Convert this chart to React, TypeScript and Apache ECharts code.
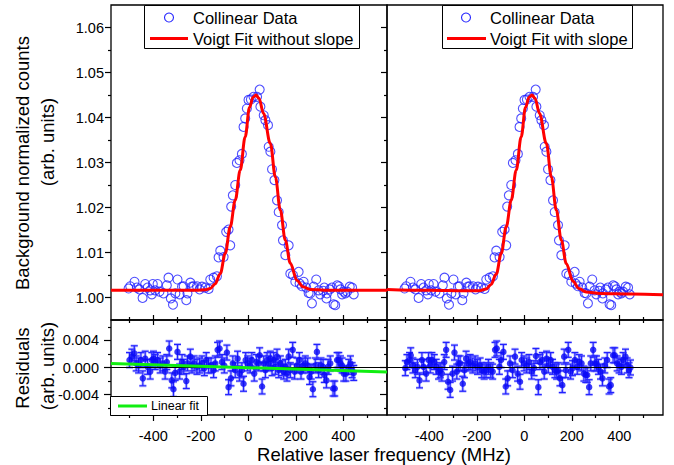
import React, { useEffect, useRef } from "react";
import * as echarts from "echarts";

// ---------- axis ranges / ticks ----------
const X_MIN = -578;
const X_MAX = 584;
const X_MAJOR = [-400, -200, 0, 200, 400];
const X_MINOR = [-500, -300, -100, 100, 300, 500];
const Y_TOP_MIN = 0.995;
const Y_TOP_MAX = 1.065;
const Y_TOP_MAJOR = [1.0, 1.01, 1.02, 1.03, 1.04, 1.05, 1.06];
const Y_TOP_MINOR = [1.005, 1.015, 1.025, 1.035, 1.045, 1.055];
const Y_RES_MIN = -0.007;
const Y_RES_MAX = 0.007;
const Y_RES_MAJOR = [-0.004, 0, 0.004];
const Y_RES_MINOR = [-0.006, -0.002, 0.002, 0.006];

// ---------- data (MHz, normalized counts) ----------
const COLLINEAR_DATA: number[][] = [
  [-504, 1.002], [-497, 1.0025], [-479, 1.0035], [-469, 1.0022], [-458, 1.0018], [-445, 0.9999],
  [-434, 1.003], [-424, 1.0022], [-413, 1.0016], [-406, 1.0007], [-402, 1.003], [-392, 1.0016],
  [-382, 1.003], [-374, 1.0013], [-357, 1.0009], [-343, 1.0027], [-336, 1.0044], [-326, 0.9998],
  [-317, 0.9984], [-307, 1.0009], [-298, 1.004], [-289, 1.0007], [-279, 1.0024], [-272, 1.0025],
  [-261, 0.9994], [-256, 1.0009], [-244, 1.0033], [-237, 1.0024], [-230, 1.0025], [-216, 1.0025],
  [-205, 1.0018], [-195, 1.0024], [-181, 1.0022], [-167, 1.0019], [-160, 1.004], [-146, 1.0044],
  [-132, 1.0047], [-125, 1.0089], [-118, 1.0104], [-104, 1.009], [-93, 1.0146], [-83, 1.0151],
  [-76, 1.0116], [-72, 1.0202], [-65, 1.0227], [-55, 1.025], [-48, 1.0299], [-37, 1.0305],
  [-27, 1.0319], [-20, 1.0379], [-13, 1.0398], [-6, 1.042], [1, 1.0439], [11, 1.044],
  [22, 1.0446], [37, 1.0446], [48, 1.0462], [51, 1.0424], [65, 1.0405], [72, 1.0394],
  [83, 1.0383], [86, 1.0335], [93, 1.0324], [100, 1.0285], [110, 1.0261], [121, 1.0216],
  [128, 1.019], [142, 1.0161], [146, 1.0127], [156, 1.0094], [170, 1.0116], [177, 1.0053],
  [188, 1.005], [198, 1.0035], [212, 1.0057], [216, 1.0031], [226, 1.0025], [233, 1.0035],
  [244, 1.0022], [254, 1.001], [261, 1.0009], [268, 0.9987], [275, 1.0024], [286, 1.004],
  [296, 1.0016], [303, 1.0007], [315, 1.0015], [320, 1.0022], [329, 0.9998], [331, 1.0009],
  [343, 1.0018], [352, 1.0022], [359, 0.9985], [366, 0.9983], [374, 1.0027], [381, 1.0025],
  [388, 1.0018], [395, 1.0007], [402, 1.0013], [409, 1.0009], [416, 1.0013], [427, 1.0024],
  [437, 1.0022], [444, 1.0007],
];

const FIT_WITHOUT_SLOPE: number[][] = [
  [-578, 1.0016], [-300, 1.0016], [-220, 1.0016], [-180, 1.0017], [-160, 1.002], [-140, 1.003],
  [-118, 1.0053], [-97, 1.0098], [-76, 1.0157], [-55, 1.0216], [-34, 1.0283], [-13, 1.0357],
  [5, 1.0422], [20, 1.0445], [32, 1.045], [45, 1.0443], [64, 1.0409], [93, 1.0342],
  [114, 1.0268], [135, 1.0194], [156, 1.0127], [177, 1.0076], [205, 1.0038], [230, 1.0024],
  [260, 1.0018], [320, 1.0016], [584, 1.0016],
];

const FIT_WITH_SLOPE: number[][] = [
  [-578, 1.0018], [-400, 1.0016], [-250, 1.0015], [-190, 1.0015], [-160, 1.0019], [-140, 1.0029],
  [-118, 1.0052], [-97, 1.0098], [-76, 1.0157], [-55, 1.0216], [-34, 1.0283], [-13, 1.0357],
  [5, 1.0422], [20, 1.0445], [32, 1.045], [45, 1.0443], [64, 1.0409], [93, 1.0342],
  [114, 1.0268], [135, 1.0194], [156, 1.0127], [177, 1.0075], [205, 1.0036], [230, 1.002],
  [260, 1.0012], [320, 1.0009], [450, 1.0008], [584, 1.0006],
];

const RESIDUALS_NO_SLOPE: number[][] = [
  [-500, 0.0011], [-490, 0.0016], [-480, 0.0021], [-472, 0.0006], [-462, 0.0003], [-452, 0.0011],
  [-444, -0.0016], [-434, 0.0013], [-424, 0.0001], [-413, -0.0006], [-406, 0.0011], [-399, 0.0013],
  [-392, 0.0008], [-382, 0.0011], [-371, 0.0003], [-360, 0.0006], [-350, -0.0006], [-343, 0.0008],
  [-333, 0.0028], [-322, -0.0019], [-315, -0.0032], [-308, -0.0008], [-298, 0.0023], [-289, -0.0006],
  [-279, 0.0008], [-272, 0.0001], [-261, -0.002], [-256, 0.0006], [-244, 0.0016], [-237, 0.0003],
  [-228, 0.0006], [-216, 0.0001], [-205, 0.0003], [-195, 0.0006], [-185, -0.0001], [-177, 0.0011],
  [-167, 0.0003], [-157, 0.0003], [-146, -0.0004], [-139, 0.0006], [-129, 0.0026], [-121, 0.0028],
  [-111, 0.0008], [-101, 0.0003], [-90, 0.0022], [-83, -0.0029], [-73, -0.0016], [-65, 0.0006],
  [-55, -0.0004], [-45, 0.0013], [-37, -0.0009], [-27, -0.0004], [-20, -0.0024], [-11, 0.0011],
  [-3, 0.0006], [8, 0.0003], [15, 0.0011], [25, -0.0009], [34, 0.0008], [43, 0.0006],
  [48, 0.0018], [58, -0.0028], [65, 0.0006], [72, -0.0004], [79, 0.0011], [86, 0.0006],
  [93, 0.0013], [100, -0.0001], [107, 0.0011], [114, 0.0001], [121, 0.0016], [128, -0.0004],
  [135, 0.0006], [142, -0.0001], [149, -0.0006], [156, 0.0001], [163, -0.0009], [170, 0.0016],
  [177, -0.0004], [187, 0.0026], [195, -0.0006], [205, 0.0003], [215, 0.0011], [222, -0.0006],
  [230, 0.0003], [240, 0.0006], [250, 0.0003], [258, -0.0014], [265, -0.0006], [272, -0.0032],
  [282, 0.0003], [289, 0.0023], [296, -0.0004], [306, 0.0003], [315, 0.0001], [320, -0.0011],
  [329, -0.0019], [336, 0.0001], [345, 0.0006], [357, -0.0031], [364, -0.0031], [374, 0.0011],
  [381, 0.0011], [388, 0.0006], [395, 0.0003], [402, -0.0009], [411, -0.0009], [423, 0.0001],
  [430, 0.0006], [437, -0.0004], [444, -0.0008],
];

const RESIDUALS_WITH_SLOPE: number[][] = [
  [-501, -0.0001], [-494, 0.0008], [-483, 0.0011], [-478, 0.0018], [-469, 0.0003], [-459, -0.0004],
  [-450, 0.0001], [-441, -0.0019], [-431, 0.0011], [-424, 0.0001], [-413, -0.0009], [-403, 0.0011],
  [-396, 0.0003], [-389, 0.0011], [-379, 0.0008], [-371, 0.0001], [-361, -0.0006], [-354, -0.0004],
  [-347, -0.0009], [-337, 0.0008], [-329, 0.0026], [-321, -0.0021], [-312, -0.0033], [-302, -0.0009],
  [-294, 0.0022], [-284, -0.0006], [-277, 0.0006], [-270, 0.0006], [-259, -0.0024], [-252, -0.0004],
  [-245, 0.0013], [-235, 0.0006], [-228, 0.0008], [-217, 0.0003], [-207, 0.0006], [-197, 0.0001],
  [-186, 0.0003], [-179, -0.0004], [-169, -0.0006], [-161, -0.0004], [-151, 0.0001], [-141, -0.0004],
  [-133, -0.0006], [-123, 0.0026], [-116, 0.0028], [-105, 0.0001], [-98, 0.0011], [-88, 0.0023],
  [-78, -0.0028], [-70, -0.0016], [-60, 0.0006], [-49, -0.0004], [-39, 0.0016], [-28, -0.0009],
  [-18, -0.0021], [-11, 0.0011], [-1, 0.0006], [10, 0.0003], [20, 0.0008], [31, -0.0006],
  [41, -0.0001], [49, 0.0017], [59, -0.0029], [66, 0.0008], [76, 0.0011], [84, -0.0006],
  [94, 0.0013], [101, 0.0003], [111, 0.0011], [119, 0.0001], [129, -0.0004], [136, -0.0006],
  [143, -0.0004], [150, -0.0016], [160, -0.0026], [168, 0.0016], [175, -0.0004], [185, 0.0026],
  [195, -0.0006], [203, -0.0001], [213, 0.0011], [223, 0.0001], [231, 0.0008], [241, 0.0006],
  [251, -0.0009], [259, -0.0011], [265, -0.0011], [273, -0.0029], [280, 0.0006], [290, 0.0026],
  [297, 0.0006], [304, 0.0006], [312, 0.0001], [321, -0.0006], [329, -0.0016], [339, 0.0003],
  [349, 0.0011], [357, -0.0028], [364, -0.0026], [374, 0.0018], [381, 0.0018], [391, 0.0006],
  [399, 0.0003], [409, 0.0001], [416, 0.0011], [426, 0.0016], [433, 0.0003], [441, -0.0004],
  [447, 0.0],
];

const RESIDUAL_ERROR = 0.0011;
const LINEAR_FIT: number[][] = [[-578, 0.0006], [584, -0.00065]];

const FONT = "'Liberation Sans', Arial, sans-serif";
const BLUE = "#2222ff";
const RED = "#ff0000";
const GREEN = "#11ee11";

function xAxis(grid: number, pos: string, values: number[], len: number, inside: boolean, labels: boolean) {
  return {
    type: "value",
    gridIndex: grid,
    position: pos,
    min: X_MIN,
    max: X_MAX,
    axisLine: { show: false, onZero: false },
    splitLine: { show: false },
    axisTick: { show: true, inside, length: len, customValues: values, lineStyle: { color: "#000", width: 1.2 } },
    axisLabel: labels
      ? { show: true, customValues: X_MAJOR, margin: 13, fontSize: 14.5, color: "#000", fontFamily: FONT, formatter: (v: number) => String(v) }
      : { show: false },
  };
}

function yAxis(grid: number, min: number, max: number, values: number[], len: number, labels: number[] | null, digits: number, margin: number) {
  return {
    type: "value",
    gridIndex: grid,
    position: "left",
    min,
    max,
    axisLine: { show: false, onZero: false },
    splitLine: { show: false },
    axisTick: { show: true, inside: false, length: len, customValues: values, lineStyle: { color: "#000", width: 1.2 } },
    axisLabel: labels
      ? { show: true, customValues: labels, margin, fontSize: 14.5, color: "#000", fontFamily: FONT, formatter: (v: number) => v.toFixed(digits) }
      : { show: false },
  };
}

function errorBars(xIdx: number, yIdx: number, data: number[][]) {
  return {
    type: "custom",
    xAxisIndex: xIdx,
    yAxisIndex: yIdx,
    z: 3,
    data: data.map((d) => [d[0], d[1] - RESIDUAL_ERROR, d[1] + RESIDUAL_ERROR]),
    renderItem: (params: any, api: any) => {
      const x = api.value(0);
      const lo = api.coord([x, api.value(1)]);
      const hi = api.coord([x, api.value(2)]);
      const w = 3.5;
      const halo = { stroke: "rgba(90,90,255,0.35)", lineWidth: 3 };
      const solid = { stroke: BLUE, lineWidth: 1.2 };
      const segs = [
        [lo[0], lo[1], hi[0], hi[1]],
        [hi[0] - w, hi[1], hi[0] + w, hi[1]],
        [lo[0] - w, lo[1], lo[0] + w, lo[1]],
      ];
      const children: any[] = [];
      segs.forEach((s) => children.push({ type: "line", shape: { x1: s[0], y1: s[1], x2: s[2], y2: s[3] }, style: halo }));
      segs.forEach((s) => children.push({ type: "line", shape: { x1: s[0], y1: s[1], x2: s[2], y2: s[3] }, style: solid }));
      return { type: "group", children };
    },
  };
}

function text(x: number, y: number, t: string, size: number, extra: any = {}) {
  return {
    type: "text",
    x,
    y,
    z: 20,
    ...extra,
    style: { text: t, fill: "#000", fontSize: size, fontFamily: FONT, align: extra.align || "left", verticalAlign: "middle" },
  };
}

export default function App() {
  const ref = useRef<HTMLDivElement>(null);
  useEffect(() => {
    if (!ref.current) return;
    const chart = echarts.init(ref.current, undefined, { renderer: "svg" });
    const gridBase = { show: true, borderColor: "#000", borderWidth: 1.3, backgroundColor: "transparent", containLabel: false };
    const option: any = {
      animation: false,
      backgroundColor: "#fff",
      grid: [
        { ...gridBase, left: 111, top: 5, width: 276, height: 315 },
        { ...gridBase, left: 387, top: 5, width: 276, height: 315 },
        { ...gridBase, left: 111, top: 320, width: 276, height: 95 },
        { ...gridBase, left: 387, top: 320, width: 276, height: 95 },
      ],
      xAxis: [
        xAxis(0, "bottom", X_MAJOR, 5, true, false),
        xAxis(0, "bottom", X_MINOR, 3, true, false),
        xAxis(1, "bottom", X_MAJOR, 5, true, false),
        xAxis(1, "bottom", X_MINOR, 3, true, false),
        xAxis(2, "top", X_MAJOR, 5, true, false),
        xAxis(2, "top", X_MINOR, 3, true, false),
        xAxis(2, "bottom", X_MAJOR, 6, false, true),
        xAxis(2, "bottom", X_MINOR, 3, false, false),
        xAxis(3, "top", X_MAJOR, 5, true, false),
        xAxis(3, "top", X_MINOR, 3, true, false),
        xAxis(3, "bottom", X_MAJOR, 6, false, true),
        xAxis(3, "bottom", X_MINOR, 3, false, false),
      ],
      yAxis: [
        yAxis(0, Y_TOP_MIN, Y_TOP_MAX, Y_TOP_MAJOR, 6, Y_TOP_MAJOR, 2, 7),
        yAxis(0, Y_TOP_MIN, Y_TOP_MAX, Y_TOP_MINOR, 3, null, 2, 7),
        yAxis(1, Y_TOP_MIN, Y_TOP_MAX, Y_TOP_MAJOR, 6, null, 2, 7),
        yAxis(1, Y_TOP_MIN, Y_TOP_MAX, Y_TOP_MINOR, 3, null, 2, 7),
        yAxis(2, Y_RES_MIN, Y_RES_MAX, Y_RES_MAJOR, 7, Y_RES_MAJOR, 3, 12),
        yAxis(2, Y_RES_MIN, Y_RES_MAX, Y_RES_MINOR, 3, null, 3, 12),
        yAxis(3, Y_RES_MIN, Y_RES_MAX, Y_RES_MAJOR, 7, null, 3, 12),
        yAxis(3, Y_RES_MIN, Y_RES_MAX, Y_RES_MINOR, 3, null, 3, 12),
      ],
      series: [
        {
          type: "scatter", xAxisIndex: 0, yAxisIndex: 0, data: COLLINEAR_DATA, symbol: "circle", symbolSize: 9, z: 3,
          itemStyle: { color: "rgba(0,0,0,0)", borderColor: BLUE, borderWidth: 1.1 },
        },
        {
          type: "line", xAxisIndex: 0, yAxisIndex: 0, data: FIT_WITHOUT_SLOPE, showSymbol: false, smooth: 0.35, smoothMonotone: "x", z: 4,
          lineStyle: { color: RED, width: 3 },
        },
        {
          type: "scatter", xAxisIndex: 2, yAxisIndex: 2, data: COLLINEAR_DATA, symbol: "circle", symbolSize: 9, z: 3,
          itemStyle: { color: "rgba(0,0,0,0)", borderColor: BLUE, borderWidth: 1.1 },
        },
        {
          type: "line", xAxisIndex: 2, yAxisIndex: 2, data: FIT_WITH_SLOPE, showSymbol: false, smooth: 0.35, smoothMonotone: "x", z: 4,
          lineStyle: { color: RED, width: 3 },
        },
        errorBars(6, 4, RESIDUALS_NO_SLOPE),
        {
          type: "scatter", xAxisIndex: 6, yAxisIndex: 4, data: RESIDUALS_NO_SLOPE, symbol: "circle", symbolSize: 6.5, z: 4,
          itemStyle: { color: "#0a0af5" },
          markLine: {
            silent: true, symbol: "none", label: { show: false }, z: 5,
            lineStyle: { color: "#000", width: 1.2, type: "solid" },
            data: [{ yAxis: 0 }],
          },
        },
        {
          type: "line", xAxisIndex: 6, yAxisIndex: 4, data: LINEAR_FIT, showSymbol: false, z: 6,
          lineStyle: { color: GREEN, width: 3 },
        },
        errorBars(10, 6, RESIDUALS_WITH_SLOPE),
        {
          type: "scatter", xAxisIndex: 10, yAxisIndex: 6, data: RESIDUALS_WITH_SLOPE, symbol: "circle", symbolSize: 6.5, z: 4,
          itemStyle: { color: "#0a0af5" },
          markLine: {
            silent: true, symbol: "none", label: { show: false }, z: 5,
            lineStyle: { color: "#000", width: 1.2, type: "solid" },
            data: [{ yAxis: 0 }],
          },
        },
      ],
      graphic: [
        // legend, left top panel
        { type: "rect", z: 19, shape: { x: 144.5, y: 5.5, width: 215, height: 43 }, style: { fill: "#fff", stroke: "#000", lineWidth: 1 } },
        { type: "circle", z: 20, shape: { cx: 169, cy: 17.5, r: 4.5 }, style: { fill: "none", stroke: BLUE, lineWidth: 1.1 } },
        text(193, 17.5, "Collinear Data", 16.5),
        { type: "line", z: 20, shape: { x1: 150, y1: 38.5, x2: 188, y2: 38.5 }, style: { stroke: RED, lineWidth: 3 } },
        text(193, 38.5, "Voigt Fit without slope", 16.5),
        // legend, right top panel
        { type: "rect", z: 19, shape: { x: 442.5, y: 5.5, width: 190, height: 43 }, style: { fill: "#fff", stroke: "#000", lineWidth: 1 } },
        { type: "circle", z: 20, shape: { cx: 466, cy: 17.5, r: 4.5 }, style: { fill: "none", stroke: BLUE, lineWidth: 1.1 } },
        text(490, 17.5, "Collinear Data", 16.5),
        { type: "line", z: 20, shape: { x1: 447, y1: 38.5, x2: 486, y2: 38.5 }, style: { stroke: RED, lineWidth: 3 } },
        text(490, 38.5, "Voigt Fit with slope", 16.5),
        // legend, residual panel
        { type: "rect", z: 19, shape: { x: 110.5, y: 396.5, width: 97, height: 19 }, style: { fill: "#fff", stroke: "#000", lineWidth: 1 } },
        { type: "line", z: 20, shape: { x1: 118, y1: 406, x2: 147, y2: 406 }, style: { stroke: GREEN, lineWidth: 3 } },
        text(151, 406, "Linear fit", 12.5),
        // axis titles
        text(22, 163, "Background normalized counts", 18.5, { rotation: Math.PI / 2, align: "center" }),
        text(47, 142, "(arb. units)", 18.5, { rotation: Math.PI / 2, align: "center" }),
        text(22, 368, "Residuals", 18.5, { rotation: Math.PI / 2, align: "center" }),
        text(47, 366, "(arb. units)", 18.5, { rotation: Math.PI / 2, align: "center" }),
        text(384, 454, "Relative laser frequency (MHz)", 18.5, { align: "center" }),
      ],
    };
    chart.setOption(option);
    return () => chart.dispose();
  }, []);
  return <div ref={ref} style={{ position: "fixed", left: 0, top: 0, width: 674, height: 465 }} />;
}
